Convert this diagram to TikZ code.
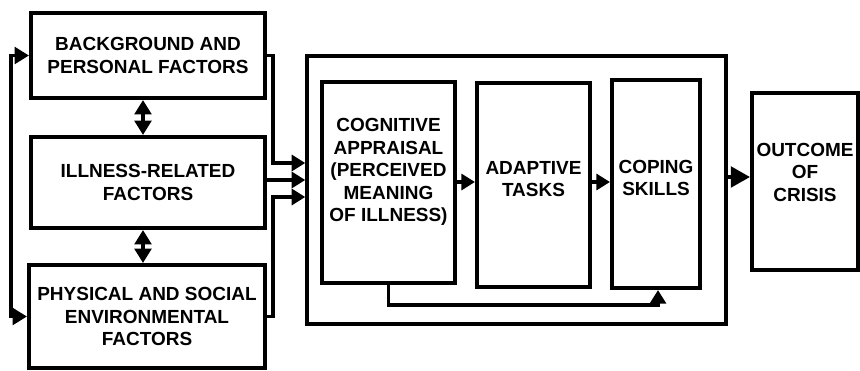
\documentclass[tikz,border=0pt]{standalone}
\usepackage{fontspec}
\setsansfont{Liberation Sans}
\usetikzlibrary{arrows.meta}

\begin{document}
\begin{tikzpicture}[x=0.025cm,y=-0.025cm,
  box/.style={draw,line width=2.9pt,inner sep=0pt},
  txt/.style={align=center,font=\sffamily\bfseries\fontsize{13.5}{16}\selectfont},
  link/.style={line width=2.3pt,-{Triangle[length=0.34cm,width=0.4cm]}},
  twoway/.style={line width=2.3pt,{Triangle[length=0.36cm,width=0.42cm]}-{Triangle[length=0.36cm,width=0.42cm]}}]
  \useasboundingbox (0,0) rectangle (860,370);
  % factors on the left
  \node[box,txt,minimum width=5.85cm,minimum height=2.125cm] (bg) at (148,55.5) {BACKGROUND AND\\PERSONAL FACTORS};
  \node[box,txt,minimum width=5.85cm,minimum height=2.275cm] (ill) at (148,182.5) {ILLNESS-RELATED\\FACTORS};
  \node[box,txt,minimum width=5.9cm,minimum height=2.575cm] (env) at (147,316.5) {PHYSICAL AND SOCIAL\\ENVIRONMENTAL\\FACTORS};
  % the coping process
  \node[box,line width=2.4pt,minimum width=10.475cm,minimum height=6.7cm] (outer) at (516.5,190) {};
  \node[box,minimum width=3.325cm,minimum height=5.025cm] (cog) at (388.5,182.5) {};
  \node[txt] (cogtext) at (388.5,172) {COGNITIVE\\APPRAISAL\\(PERCEIVED\\MEANING\\OF ILLNESS)};
  \node[box,minimum width=2.825cm,minimum height=5.1cm] (adapt) at (533.5,185) {};
  \node[txt] (adapttext) at (533.5,179) {ADAPTIVE\\TASKS};
  \node[box,minimum width=2.2cm,minimum height=5.2cm] (coping) at (656,184) {};
  \node[txt] (copingtext) at (656,178) {COPING\\SKILLS};
  \node[box,minimum width=2.65cm,minimum height=4.425cm] (outcome) at (805,181.5) {};
  \node[txt] (outcometext) at (805,172) {OUTCOME\\OF\\CRISIS};

  \draw[twoway] (bg.west) -- ++(-18,0) |- (env.west);
  \draw[twoway] (bg.south -| 143,0) -- (ill.north -| 143,0);
  \draw[twoway] (ill.south -| 143,0) -- (env.north -| 143,0);
  \draw[link] (bg.east) -| (273,163) -- (outer.west |- 0,163);
  \draw[link] (ill.east |- 0,180) -- (outer.west |- 0,180);
  \draw[link] (env.east) -| (273,197) -- (outer.west |- 0,197);
  \draw[link] (cog.east |- 0,182) -- (adapt.west |- 0,182);
  \draw[link] (adapt.east |- 0,182) -- (coping.west |- 0,182);
  \draw[link] (cog.south) |- (658,305) -- (coping.south -| 658,0);
  \draw[line width=2.3pt,-{Triangle[length=0.48cm,width=0.52cm]}] (outer.east |- 0,177) -- (outcome.west |- 0,177);
\end{tikzpicture}
\end{document}
